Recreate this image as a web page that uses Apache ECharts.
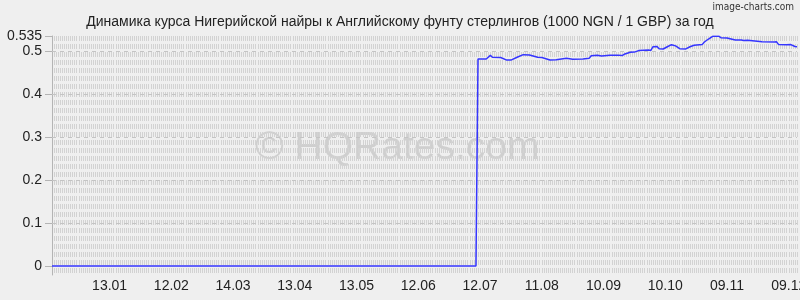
<!DOCTYPE html>
<html>
<head>
<meta charset="utf-8">
<script src="https://cdn.jsdelivr.net/npm/echarts@6/dist/echarts.min.js"></script>
<style>
html,body{margin:0;padding:0;background:#efefef;}
#chart{width:800px;height:300px;}
</style>
</head>
<body>
<div id="chart"></div>
<script>
const titleText = 'Динамика курса Нигерийской найры к Английскому фунту стерлингов (1000 NGN / 1 GBP) за год';
const xStart = '2024-12-16';
const xEnd = '2025-12-13';
const xTickDates = ['2025-01-13','2025-02-12','2025-03-14','2025-04-13','2025-05-13','2025-06-12',
  '2025-07-12','2025-08-11','2025-09-10','2025-10-10','2025-11-09','2025-12-09'];
const yTicks = [0, 0.1, 0.2, 0.3, 0.4, 0.5, 0.535];
const yMin = -0.021;
const yMax = 0.535;
const hGrid = [0.1, 0.2, 0.3, 0.4, 0.5, 0.535];

const dates = ['2024-12-16','2025-07-10','2025-07-11','2025-07-15','2025-07-17','2025-07-18','2025-07-22',
  '2025-07-25','2025-07-27','2025-07-30','2025-08-02','2025-08-05','2025-08-09','2025-08-11','2025-08-15',
  '2025-08-18','2025-08-23','2025-08-26','2025-08-31','2025-09-03','2025-09-04','2025-09-07','2025-09-09',
  '2025-09-13','2025-09-17','2025-09-19','2025-09-20','2025-09-23','2025-09-25','2025-09-27','2025-10-02',
  '2025-10-03','2025-10-04','2025-10-06','2025-10-07','2025-10-09','2025-10-11','2025-10-13','2025-10-15',
  '2025-10-17','2025-10-20','2025-10-22','2025-10-24','2025-10-28','2025-10-29','2025-10-31','2025-11-02',
  '2025-11-05','2025-11-06','2025-11-09','2025-11-13','2025-11-16','2025-11-17','2025-11-19','2025-11-26',
  '2025-12-02','2025-12-03','2025-12-04','2025-12-08','2025-12-10','2025-12-12','2025-12-13'];
const rates = [0, 0, 0.4815, 0.4815, 0.490, 0.4855, 0.485,
  0.479, 0.479, 0.4855, 0.4916, 0.491, 0.4855, 0.485, 0.479,
  0.480, 0.483, 0.481, 0.4815, 0.483, 0.489, 0.490, 0.4885,
  0.490, 0.4905, 0.4895, 0.4924, 0.497, 0.4975, 0.501, 0.5024,
  0.5015, 0.510, 0.5105, 0.5055, 0.5047, 0.510, 0.5148, 0.512,
  0.5055, 0.505, 0.510, 0.5133, 0.5155, 0.521, 0.528, 0.5343,
  0.5345, 0.531, 0.5303, 0.5257, 0.5257, 0.5247, 0.525, 0.5218,
  0.5211, 0.5215, 0.5155, 0.5148, 0.515, 0.5105, 0.510];

const DAY = 86400000;
function utc(s){ const p = s.split('-').map(Number); return Date.UTC(p[0], p[1]-1, p[2]); }
function dayIndex(s){ return Math.round((utc(s) - utc(xStart)) / DAY); }
function pad(n){ return (n < 10 ? '0' : '') + n; }
function dayLabel(i){ const d = new Date(utc(xStart) + i * DAY); return pad(d.getUTCDate()) + '.' + pad(d.getUTCMonth() + 1); }

const seriesData = dates.map((d, i) => [dayIndex(d), rates[i]]);
const font = '"Liberation Sans", Arial, sans-serif';

const chart = echarts.init(document.getElementById('chart'), null, {renderer: 'canvas'});
chart.setOption({
  backgroundColor: '#efefef',
  animation: false,
  title: {
    text: titleText, left: 'center', top: 10,
    textStyle: {fontFamily: font, fontSize: 14, fontWeight: 'normal', color: '#222'}
  },
  graphic: [
    {type: 'text', right: 6, top: 2, z: 10,
     style: {text: 'image-charts.com', font: '10px "DejaVu Sans Condensed", "Liberation Sans", sans-serif', fill: '#333'}},
    {type: 'text', left: 255, top: 129, z: 0,
     style: {text: '© HQRates.com', font: '39px "Liberation Sans", Arial, sans-serif', fill: 'rgba(160,160,160,0.4)'}}
  ],
  grid: {left: 52, right: 3, top: 36, bottom: 25, containLabel: false, outerBoundsMode: 'none'},
  xAxis: {
    type: 'value', min: 0, max: dayIndex(xEnd), interval: 1,
    axisLine: {show: false}, axisTick: {show: false},
    splitLine: {show: true, lineStyle: {color: '#d2d2d2', width: 1, type: [5, 3]}},
    axisLabel: {
      customValues: xTickDates.map(dayIndex),
      formatter: v => dayLabel(v),
      fontFamily: font, fontSize: 14, color: '#222', margin: 4, hideOverlap: false
    }
  },
  yAxis: {
    type: 'value', min: yMin, max: yMax,
    axisLine: {show: true, lineStyle: {color: '#b4b4b4'}},
    axisTick: {show: true, length: 7, customValues: yTicks, lineStyle: {color: '#b4b4b4'}},
    axisLabel: {customValues: yTicks, fontFamily: font, fontSize: 14, color: '#222', margin: 10},
    splitLine: {show: false}
  },
  series: [{
    type: 'line', data: seriesData, symbol: 'none', z: 5,
    lineStyle: {color: '#3535ff', width: 1.5},
    markLine: {
      silent: true, symbol: 'none', label: {show: false}, animation: false,
      lineStyle: {color: '#c4c4c4', width: 1, type: [4, 4]},
      data: hGrid.map(v => ({yAxis: v}))
    }
  }]
});
</script>
</body>
</html>
